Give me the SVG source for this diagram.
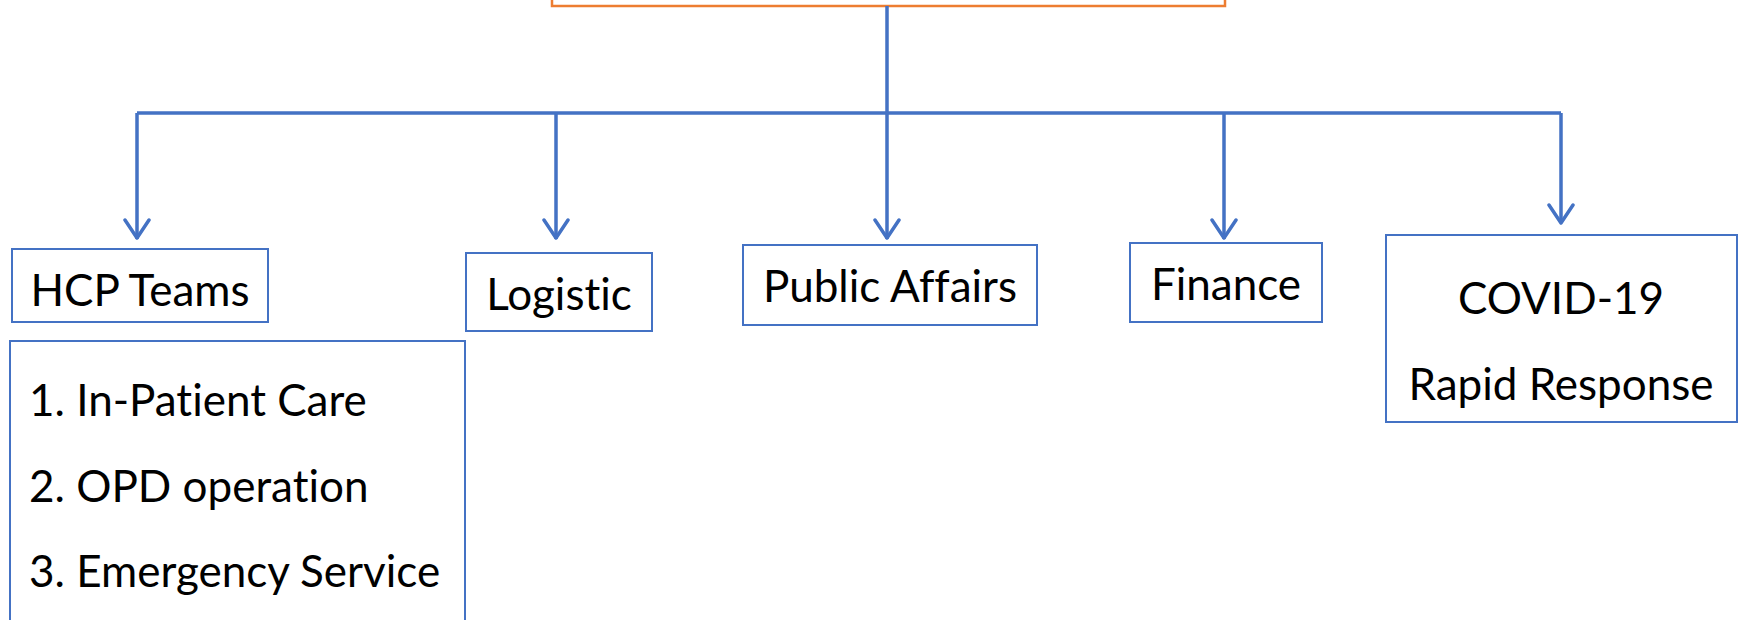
<svg xmlns="http://www.w3.org/2000/svg" width="1741" height="620" viewBox="0 0 1741 620">
<style>
.box{fill:#fff;stroke:#4472C4;stroke-width:2}
.top{fill:#fff;stroke:#ED7D31;stroke-width:2.5}
.line{fill:none;stroke:#4472C4;stroke-width:3.5}
.head{fill:none;stroke:#4472C4;stroke-width:3.5;stroke-linecap:round;stroke-linejoin:round}
text{font-family:Lato,"Open Sans","Liberation Sans",sans-serif;font-size:44px;fill:#000;font-variant-ligatures:none;font-feature-settings:"liga" 0}
.c{text-anchor:middle}
</style>
<g id="top-node"><rect class="top" x="552" y="-10" width="673" height="16"/></g>
<g id="connectors">
<path class="line" d="M887 6V239M137 113H1561M137 113V239M556 113V239M1224 113V239M1561 113V223"/>
<path class="head" d="M125 220L137 238L149 220M544 220L556 238L568 220M875 220L887 238L899 220M1212 220L1224 238L1236 220M1549 205L1561 223L1573 205"/>
</g>
<g id="hcp"><rect class="box" x="12" y="249" width="256" height="73"/><text class="c" x="140" y="306">HCP Teams</text></g>
<g id="hcp-list"><rect class="box" x="10" y="341" width="455" height="290"/>
<text x="29" y="416">1. In-Patient Care</text><text x="29" y="502">2. OPD operation</text><text x="29" y="587">3. Emergency Service</text></g>
<g id="logistic"><rect class="box" x="466" y="253" width="186" height="78"/><text class="c" x="559" y="310">Logistic</text></g>
<g id="public-affairs"><rect class="box" x="743" y="245" width="294" height="80"/><text class="c" x="890" y="302">Public Affairs</text></g>
<g id="finance"><rect class="box" x="1130" y="243" width="192" height="79"/><text class="c" x="1226" y="300">Finance</text></g>
<g id="covid"><rect class="box" x="1386" y="235" width="351" height="187"/><text class="c" x="1561" y="314">COVID-19</text><text class="c" x="1561" y="400">Rapid Response</text></g>
</svg>
